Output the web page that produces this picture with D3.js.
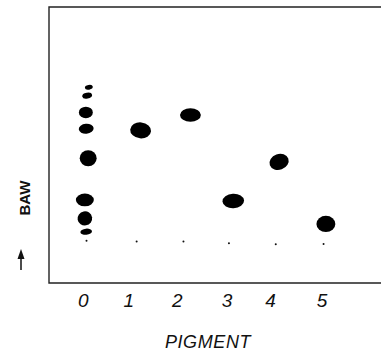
<!DOCTYPE html>
<html>
<head>
<meta charset="utf-8">
<script src="https://cdn.jsdelivr.net/npm/d3@7"></script>
<style>
  body { margin: 0; background: #fff; }
  svg { display: block; }
  text { font-family: "Liberation Sans", Arial, sans-serif; fill: #111; }
</style>
</head>
<body>
<figure id="plate" style="margin:0"></figure>
<script>
// lanes (pigment number), where the labels sit and where each origin sits on the plate
const laneLabels = ["0", "1", "2", "3", "4", "5"];
const labelX = [10.2, 23.9, 38.5, 53.5, 66.6, 82.1];
const laneX = [11.3, 26.4, 40.5, 54.2, 68.3, 82.7];
const originY = [15.3, 15.0, 15.0, 14.4, 14.0, 14.1];

// spots: plate x, BAW distance, spot width / height (plate units), tilt
const spotX = [12.0, 11.5, 11.1, 11.2, 11.8, 10.8, 10.8, 11.2, 27.6, 42.6, 55.5, 69.3, 83.4];
const spotY = [70.9, 67.9, 61.8, 55.9, 45.2, 30.1, 23.4, 18.6, 55.3, 60.9, 29.7, 43.9, 21.4];
const spotW = [2.4, 3.0, 4.2, 4.5, 5.1, 5.4, 4.4, 3.5, 6.3, 6.3, 6.5, 5.9, 5.7];
const spotH = [1.7, 2.1, 4.2, 3.6, 5.8, 4.6, 5.1, 2.2, 5.8, 4.9, 5.2, 5.7, 5.9];
const spotTilt = [-10, -10, 0, -5, 0, 0, -10, -5, 5, 0, -3, -20, 0];

const width = 381, height = 351;
const svg = d3.select("#plate").append("svg")
  .attr("width", width).attr("height", height);

const x = d3.scaleLinear().domain([0, 100]).range([49, 381]);
const y = d3.scaleLinear().domain([0, 100]).range([283, 7]);

// plate frame (open on the right)
const frame = svg.append("g").attr("fill", "none").attr("stroke", "#222").attr("stroke-width", 1.4);
frame.append("path")
  .attr("d", `M${x.range()[1]},${y(100)}H${x(0)}V${y(0)}H${x.range()[1]}`);

// origin dots
svg.append("g").selectAll("circle")
  .data(laneX)
  .enter().append("circle")
  .attr("cx", d => x(d))
  .attr("cy", (d, i) => y(originY[i]))
  .attr("r", 1)
  .attr("fill", "#111");

// spots
const pxPerX = x(1) - x(0), pxPerY = y(0) - y(1);
svg.append("g").selectAll("ellipse")
  .data(spotX.map((d, i) => i))
  .enter().append("ellipse")
  .attr("transform", i => `translate(${x(spotX[i])},${y(spotY[i])}) rotate(${spotTilt[i]})`)
  .attr("rx", i => spotW[i] * pxPerX / 2)
  .attr("ry", i => spotH[i] * pxPerY / 2)
  .attr("fill", "#000");

// lane labels
const axis = svg.append("g")
  .attr("transform", `translate(0,${y(0)})`)
  .call(d3.axisBottom(x).tickValues(labelX).tickSize(0).tickPadding(11)
    .tickFormat((d, i) => laneLabels[i]));
axis.select(".domain").remove();
axis.selectAll("text")
  .style("font-family", '"Liberation Sans", Arial, sans-serif')
  .style("font-size", "19px")
  .style("font-style", "italic")
  .attr("fill", "#111");

svg.append("text")
  .attr("x", 208).attr("y", 348)
  .attr("text-anchor", "middle")
  .style("font-size", "18px")
  .style("font-style", "italic")
  .style("letter-spacing", "0.6px")
  .text("PIGMENT");

// BAW direction label with arrow
svg.append("text")
  .attr("transform", "translate(30,198) rotate(-90)")
  .attr("text-anchor", "middle")
  .style("font-size", "15px")
  .style("font-weight", "bold")
  .text("BAW");

svg.append("line")
  .attr("x1", 21).attr("x2", 21).attr("y1", 270).attr("y2", 256)
  .attr("stroke", "#111").attr("stroke-width", 1.5);
svg.append("path")
  .attr("d", "M21,249L24.5,259L17.5,259Z")
  .attr("fill", "#111");
</script>
</body>
</html>
